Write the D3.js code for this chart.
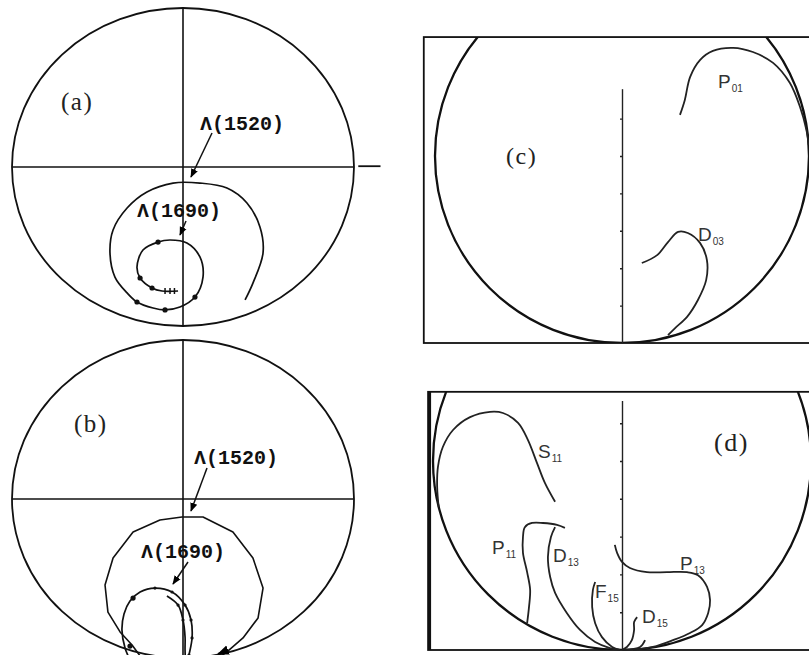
<!DOCTYPE html>
<html>
<head>
<meta charset="utf-8">
<script src="https://cdn.jsdelivr.net/npm/d3@7"></script>
<style>
  body { margin: 0; background: #fff; }
  svg { display: block; }
</style>
</head>
<body>
<script>
var w = 809;
var h = 655;

// ---- panel (a): Lambda(1520) / Lambda(1690) trajectories, [Re, Im]
var lambdaA = [
  [0.363,-0.836],[0.409,-0.730],[0.468,-0.541],[0.450,-0.377],[0.374,-0.226],
  [0.257,-0.132],[0.099,-0.101],[-0.058,-0.101],[-0.211,-0.157],[-0.327,-0.258],
  [-0.409,-0.396],[-0.427,-0.541],[-0.398,-0.692],[-0.327,-0.792],[-0.269,-0.849],
  [-0.175,-0.887],[-0.105,-0.899],[-0.018,-0.881],[0.070,-0.818],
  [0.117,-0.692],[0.099,-0.566],[0.023,-0.478],[-0.076,-0.459],[-0.146,-0.472],
  [-0.234,-0.522],[-0.269,-0.629],[-0.251,-0.698],[-0.181,-0.761],[-0.123,-0.780],
  [-0.029,-0.780]
];
var dotsA = [[-0.146,-0.472],[-0.251,-0.698],[-0.181,-0.761],[-0.269,-0.849],[-0.105,-0.899],[0.070,-0.818]];
var ticksA = [[-0.105,-0.780],[-0.076,-0.780],[-0.050,-0.780]];

// ---- panel (b)
var outerB = [
  [-0.251,-0.987],[-0.298,-0.918],[-0.368,-0.836],[-0.439,-0.711],[-0.456,-0.541],
  [-0.409,-0.371],[-0.292,-0.208],[-0.135,-0.132],[-0.006,-0.113],[0.117,-0.113],
  [0.292,-0.208],[0.409,-0.371],[0.468,-0.560],[0.439,-0.748],[0.351,-0.874],
  [0.257,-0.962],[0.187,-1.013]
];
var loopB = [
  [-0.304,-1.025],[-0.339,-0.937],[-0.357,-0.824],[-0.345,-0.723],[-0.310,-0.642],
  [-0.251,-0.585],[-0.164,-0.560],[-0.064,-0.585],[0.012,-0.667],[0.047,-0.761],
  [0.053,-0.874],[0.035,-0.981],[0.018,-1.063],[0.012,-0.950],[0.012,-0.868],
  [0.000,-0.761],[-0.029,-0.667],[-0.094,-0.610]
];
var dotsB = [[-0.292,-0.623],[-0.310,-0.925],[-0.164,-0.560],[-0.064,-0.585],[0.012,-0.667],
  [0.047,-0.761],[0.053,-0.874],[0.000,-0.761],[-0.029,-0.667],[0.035,-0.981]];
var arrowB = [[0.263,-0.950],[0.205,-0.975]];

// ---- panel (c): partial waves, Argand units
var P01 = [
  [0.155,0.610],[0.168,0.650],[0.182,0.711],[0.209,0.757],[0.243,0.781],[0.297,0.789],
  [0.350,0.778],[0.404,0.749],[0.449,0.695],[0.476,0.631],[0.493,0.570],[0.499,0.530]
];
var D03 = [
  [0.053,0.214],[0.094,0.235],[0.123,0.270],[0.150,0.297],[0.176,0.294],[0.209,0.267],
  [0.227,0.222],[0.225,0.168],[0.203,0.115],[0.174,0.070],[0.142,0.040],[0.123,0.021]
];

// ---- panel (d)
var S11 = [
  [-0.177,0.392],[-0.204,0.442],[-0.225,0.495],[-0.249,0.556],[-0.275,0.601],[-0.315,0.627],
  [-0.349,0.630],[-0.402,0.616],[-0.447,0.582],[-0.474,0.537],[-0.487,0.484],[-0.489,0.431],
  [-0.485,0.378]
];
var P11 = [
  [-0.251,0.071],[-0.246,0.114],[-0.243,0.159],[-0.251,0.206],[-0.262,0.257],[-0.262,0.299],
  [-0.257,0.325],[-0.238,0.336],[-0.209,0.336],[-0.172,0.331],[-0.151,0.323]
];
var D13 = [
  [-0.177,0.325],[-0.188,0.299],[-0.196,0.246],[-0.190,0.193],[-0.177,0.151],[-0.146,0.098],
  [-0.111,0.053],[-0.071,0.021],[-0.032,0.005],[-0.005,0.000]
];
var F15 = [[-0.071,0.180],[-0.077,0.159],[-0.079,0.114],[-0.071,0.071],[-0.053,0.034],[-0.026,0.008],[-0.005,0.000]];
var D15 = [[0.040,0.087],[0.032,0.074],[0.032,0.053],[0.026,0.026],[0.013,0.008],[0.000,0.000]];
var D15b = [[0.061,0.026],[0.048,0.008],[0.003,0.000]];
var P13 = [
  [-0.019,0.278],[-0.013,0.257],[0.000,0.233],[0.021,0.217],[0.066,0.206],[0.119,0.206],
  [0.172,0.206],[0.201,0.198],[0.225,0.167],[0.233,0.132],[0.228,0.098],[0.212,0.066],
  [0.180,0.045],[0.135,0.026],[0.082,0.008],[0.029,0.000]
];

var imTicks = [0.1, 0.2, 0.3, 0.4, 0.5, 0.6];

//Create SVG element
var svg = d3.select("body")
            .append("svg")
            .attr("width", w)
            .attr("height", h);

var defs = svg.append("defs");
defs.append("marker")
    .attr("id", "arr")
    .attr("viewBox", "0 0 10 10")
    .attr("refX", 9).attr("refY", 5)
    .attr("markerWidth", 6).attr("markerHeight", 6)
    .attr("orient", "auto")
    .append("path")
    .attr("d", "M0,1 L10,5 L0,9 z")
    .attr("fill", "#000");

function curve(g, xs, ys, data, smooth, sw, col) {
  var line = d3.line()
      .x(function(d) { return xs(d[0]); })
      .y(function(d) { return ys(d[1]); })
      .curve(smooth ? d3.curveCatmullRom.alpha(0.5) : d3.curveLinear);
  return g.append("path")
      .attr("d", line(data))
      .attr("fill", "none")
      .attr("stroke", col || "#111")
      .attr("stroke-width", sw || 1.6)
      .attr("stroke-linejoin", "round");
}

function lamLabel(g, txt, x, y) {
  g.append("text")
   .attr("x", x).attr("y", y)
   .attr("font-family", "Liberation Mono, monospace")
   .attr("font-weight", "bold")
   .attr("font-size", "20px")
   .attr("fill", "#111")
   .text(txt);
}

function panelLabel(g, txt, x, y, size) {
  g.append("text")
   .attr("x", x).attr("y", y)
   .attr("font-family", "Liberation Serif, serif")
   .attr("font-size", size + "px")
   .attr("letter-spacing", "1.5px")
   .attr("fill", "#222")
   .text(txt);
}

function waveLabel(g, main, sub, x, y) {
  var t = g.append("text")
   .attr("x", x).attr("y", y)
   .attr("font-family", "Liberation Sans, sans-serif")
   .attr("font-size", "19px")
   .attr("fill", "#333");
  t.append("tspan").text(main);
  t.append("tspan").attr("font-size", "10px").attr("dy", 4).attr("dx", 1).text(sub);
}

// ================= panels (a) and (b) =================
function argandAB(cy0, cy1) {
  var x = d3.scaleLinear().domain([-1, 1]).range([12, 354]);
  var y = d3.scaleLinear().domain([-1, 1]).range([cy1, cy0]);
  var g = svg.append("g");
  g.append("ellipse")
   .attr("cx", x(0)).attr("cy", y(0))
   .attr("rx", x(1) - x(0)).attr("ry", y(-1) - y(0))
   .attr("fill", "none").attr("stroke", "#111").attr("stroke-width", 1.8);
  g.append("line")
   .attr("x1", x(-1)).attr("x2", x(1)).attr("y1", y(0)).attr("y2", y(0))
   .attr("stroke", "#111").attr("stroke-width", 1.6);
  g.append("line")
   .attr("x1", x(0)).attr("x2", x(0)).attr("y1", y(1)).attr("y2", y(-1))
   .attr("stroke", "#111").attr("stroke-width", 1.6);
  return {g: g, x: x, y: y};
}

var A = argandAB(8, 326);
A.g.append("line")
 .attr("x1", A.x(1.025)).attr("x2", A.x(1.155))
 .attr("y1", A.y(0.005)).attr("y2", A.y(0.005))
 .attr("stroke", "#111").attr("stroke-width", 1.8);
curve(A.g, A.x, A.y, lambdaA, true, 1.7);
A.g.selectAll("circle.dot").data(dotsA).enter().append("circle")
 .attr("class", "dot")
 .attr("cx", function(d) { return A.x(d[0]); })
 .attr("cy", function(d) { return A.y(d[1]); })
 .attr("r", 2.6).attr("fill", "#111");
A.g.selectAll("line.tk").data(ticksA).enter().append("line")
 .attr("class", "tk")
 .attr("x1", function(d) { return A.x(d[0]); })
 .attr("x2", function(d) { return A.x(d[0]); })
 .attr("y1", function(d) { return A.y(d[1]) - 3; })
 .attr("y2", function(d) { return A.y(d[1]) + 3; })
 .attr("stroke", "#111").attr("stroke-width", 1.5);
panelLabel(A.g, "(a)", 61, 110, 25);
lamLabel(A.g, "\u039B(1520)", 200, 130);
lamLabel(A.g, "\u039B(1690)", 137, 217);
A.g.append("line").attr("x1", 212).attr("y1", 133).attr("x2", 191).attr("y2", 177)
 .attr("stroke", "#111").attr("stroke-width", 1.5).attr("marker-end", "url(#arr)");
A.g.append("line").attr("x1", 186).attr("y1", 221).attr("x2", 180).attr("y2", 235)
 .attr("stroke", "#111").attr("stroke-width", 1.5).attr("marker-end", "url(#arr)");

var B = argandAB(340, 658);
curve(B.g, B.x, B.y, outerB, false, 1.6);
curve(B.g, B.x, B.y, loopB, true, 1.7);
B.g.selectAll("circle.dot").data(dotsB).enter().append("circle")
 .attr("class", "dot")
 .attr("cx", function(d) { return B.x(d[0]); })
 .attr("cy", function(d) { return B.y(d[1]); })
 .attr("r", function(d, i) { return i < 2 ? 2.6 : 1.6; })
 .attr("fill", "#111");
curve(B.g, B.x, B.y, arrowB, false, 2).attr("marker-end", "url(#arr)");
panelLabel(B.g, "(b)", 74, 432, 25);
lamLabel(B.g, "\u039B(1520)", 194, 464);
lamLabel(B.g, "\u039B(1690)", 141, 558);
B.g.append("line").attr("x1", 207).attr("y1", 468).attr("x2", 191).attr("y2", 511)
 .attr("stroke", "#111").attr("stroke-width", 1.5).attr("marker-end", "url(#arr)");
B.g.append("line").attr("x1", 188).attr("y1", 562).attr("x2", 173).attr("y2", 584)
 .attr("stroke", "#111").attr("stroke-width", 1.5).attr("marker-end", "url(#arr)");

// ================= panels (c) and (d) =================
function argandCD(id, xr, yr, reMin, imMax) {
  var x = d3.scaleLinear().domain([-0.5, 0.5]).range(xr);
  var y = d3.scaleLinear().domain([0, 1]).range(yr);
  var g = svg.append("g");
  defs.append("clipPath").attr("id", id)
      .append("rect")
      .attr("x", x(reMin)).attr("y", y(imMax))
      .attr("width", w + 10 - x(reMin)).attr("height", y(0) - y(imMax));
  g.append("rect")
   .attr("x", x(reMin)).attr("y", y(imMax))
   .attr("width", w + 10 - x(reMin)).attr("height", y(0) - y(imMax))
   .attr("fill", "none").attr("stroke", "#111").attr("stroke-width", 1.8);
  g.append("ellipse")
   .attr("clip-path", "url(#" + id + ")")
   .attr("cx", x(0)).attr("cy", y(0.5))
   .attr("rx", x(0.5) - x(0)).attr("ry", y(0) - y(0.5))
   .attr("fill", "none").attr("stroke", "#111").attr("stroke-width", 2.3);
  return {g: g, x: x, y: y};
}

var C = argandCD("clipc", [435, 809], [343, -31], -0.53, 0.818);
C.g.append("g")
 .attr("transform", "translate(" + C.x(0) + ",0)")
 .call(d3.axisLeft(d3.scaleLinear().domain([0, 0.68]).range([C.y(0), C.y(0.68)]))
        .tickValues(imTicks).tickFormat("").tickSizeInner(2).tickSizeOuter(0))
 .call(function(a) { a.selectAll("path, line").attr("stroke", "#222").attr("stroke-width", 1.4); });
curve(C.g, C.x, C.y, P01, true, 1.8, "#222");
curve(C.g, C.x, C.y, D03, true, 1.8, "#222");
panelLabel(C.g, "(c)", 506, 164, 24);
waveLabel(C.g, "P", "01", 718, 88);
waveLabel(C.g, "D", "03", 698, 241);

var D = argandCD("clipd", [433, 811], [650, 272], -0.513, 0.683);
D.g.append("rect")
 .attr("x", D.x(-0.513)).attr("y", D.y(0.683))
 .attr("width", 3).attr("height", D.y(0) - D.y(0.683))
 .attr("fill", "#111");
D.g.append("g")
 .attr("transform", "translate(" + D.x(0) + ",0)")
 .call(d3.axisLeft(d3.scaleLinear().domain([0, 0.66]).range([D.y(0), D.y(0.66)]))
        .tickValues(imTicks).tickFormat("").tickSizeInner(2).tickSizeOuter(0))
 .call(function(a) { a.selectAll("path, line").attr("stroke", "#222").attr("stroke-width", 1.4); });
[S11, P11, D13, F15, D15, D15b, P13].forEach(function(s) {
  curve(D.g, D.x, D.y, s, true, 1.8, "#222");
});
panelLabel(D.g, "(d)", 714, 451, 26);
waveLabel(D.g, "S", "11", 538, 458);
waveLabel(D.g, "P", "11", 492, 554);
waveLabel(D.g, "D", "13", 553, 562);
waveLabel(D.g, "F", "15", 595, 598);
waveLabel(D.g, "D", "15", 642, 623);
waveLabel(D.g, "P", "13", 680, 570);
</script>
</body>
</html>
